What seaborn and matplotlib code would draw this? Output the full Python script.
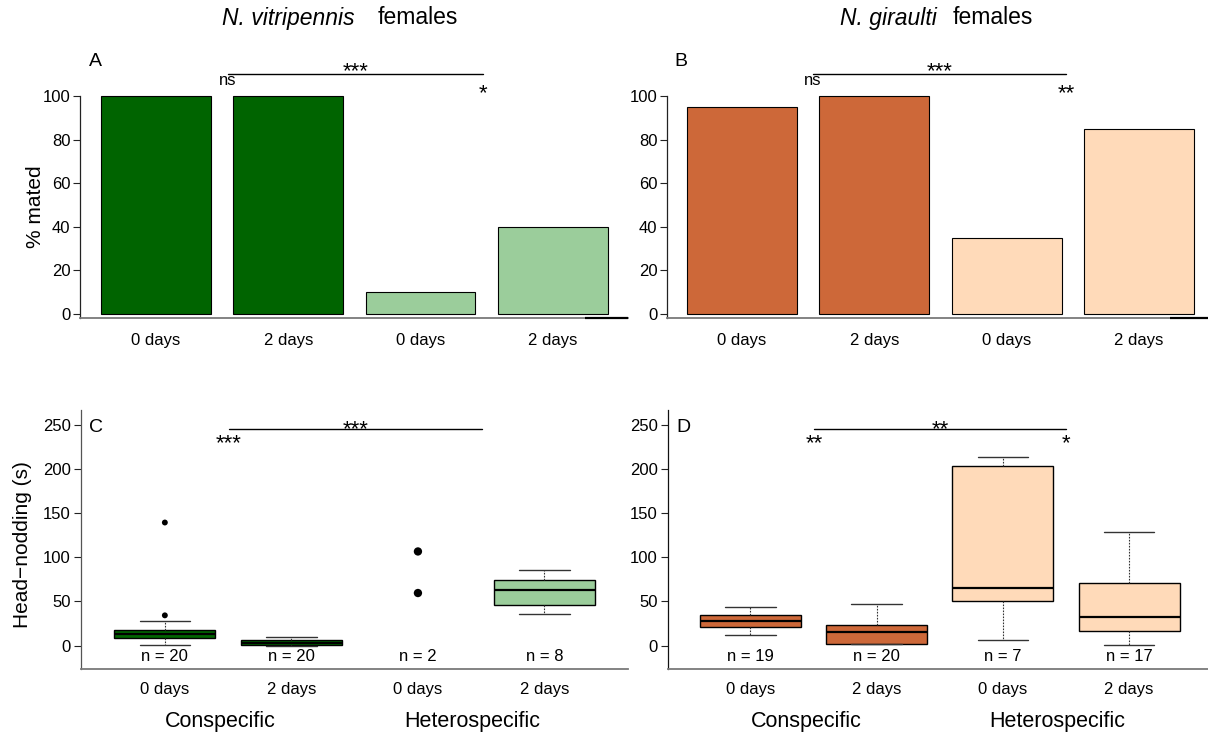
import matplotlib
matplotlib.use('Agg')
import matplotlib.pyplot as plt
import matplotlib.transforms as mtrans
import seaborn as sns
import numpy as np

sns.set_theme(style='white')
plt.rcParams['font.family'] = ['Liberation Sans', 'DejaVu Sans']
plt.rcParams['text.color'] = 'black'
plt.rcParams['axes.labelcolor'] = 'black'
plt.rcParams['xtick.color'] = 'black'
plt.rcParams['ytick.color'] = 'black'

# ---------------- data ----------------
conditions = ['con0', 'con2', 'het0', 'het2']
day_labels = ['0 days', '2 days', '0 days', '2 days']
group_labels = ['Conspecific', 'Heterospecific']

vit_mated = [100, 100, 10, 40]
gir_mated = [95, 100, 35, 85]

vit_colors = ['#006400', '#006400', '#9BCD9B', '#9BCD9B']
gir_colors = ['#CD6839', '#CD6839', '#FFDAB9', '#FFDAB9']

# head-nodding box statistics (s)
vit_med = [12.8, 3.0, np.nan, 63.0]
vit_q1 = [8.3, 0.8, np.nan, 46.0]
vit_q3 = [17.3, 6.4, np.nan, 74.7]
vit_lo = [0.8, 0.0, np.nan, 36.2]
vit_hi = [28.3, 9.4, np.nan, 85.6]
vit_n = [20, 20, 2, 8]
vit_out_x = [0, 0]
vit_out_y = [34.3, 139.5]
vit_raw_x = [2, 2]
vit_raw_y = [59.6, 106.7]

gir_med = [28.0, 15.5, 64.8, 32.8]
gir_q1 = [20.7, 2.3, 50.1, 16.6]
gir_q3 = [34.7, 23.4, 203.6, 70.9]
gir_lo = [11.7, 1.5, 6.8, 0.8]
gir_hi = [43.4, 46.7, 214.0, 128.6]
gir_n = [19, 20, 7, 17]

sig_A = ['ns', '***', '*']
sig_B = ['ns', '***', '**']
sig_C = ['***', '***', '']
sig_D = ['**', '**', '*']

W, H = 1208, 734
fig = plt.figure(figsize=(W / 100, H / 100), dpi=100)


def px_axes(l, t, r, b):
    return fig.add_axes([l / W, 1 - b / H, (r - l) / W, (b - t) / H])


def style(ax, left_color):
    for s in ['top', 'right']:
        ax.spines[s].set_visible(False)
    ax.spines['bottom'].set_color('#7a7a7a')
    ax.spines['bottom'].set_linewidth(1.3)
    ax.spines['left'].set_color(left_color)
    ax.spines['left'].set_linewidth(0.9)
    ax.tick_params(axis='y', direction='out', length=5, width=0.8, left=True,
                   labelsize=12, pad=2, color='#222', labelcolor='black')
    ax.tick_params(axis='x', length=0, labelsize=12, labelcolor='black')
    ax.grid(False)


def sig(ax, labels, x0, x1, y, off_left, off_mid, off_right, size_left):
    ax.plot([x0, x1], [y, y], color='black', lw=1.0, clip_on=False)
    l, m, r = labels
    ax.annotate(l, xy=(x0, y), xytext=(0, off_left), textcoords='offset points',
                ha='center', va='baseline', fontsize=size_left, annotation_clip=False)
    ax.annotate(m, xy=((x0 + x1) / 2, y), xytext=(0, off_mid), textcoords='offset points',
                ha='center', va='baseline', fontsize=16, annotation_clip=False)
    if r:
        ax.annotate(r, xy=(x1, y), xytext=(0, off_right), textcoords='offset points',
                    ha='center', va='baseline', fontsize=16, annotation_clip=False)


# ---------------- bar panels ----------------
def bar_panel(ax, values, colors, xlim, ylim, dark_from, sigs, sig_x, ylabel):
    sns.barplot(x=conditions, y=values, hue=conditions, palette=colors, width=0.83,
                saturation=1, edgecolor='black', linewidth=0.8, legend=False, ax=ax)
    ax.set_xlim(*xlim)
    ax.set_ylim(*ylim)
    style(ax, '#222')
    ax.spines['left'].set_bounds(ylim[0], 100)
    ax.set_yticks([0, 20, 40, 60, 80, 100])
    ax.set_xticks(range(4))
    ax.set_xticklabels(day_labels)
    ax.tick_params(axis='x', pad=11)
    ax.set_xlabel('')
    ax.plot([dark_from, xlim[1]], [ylim[0], ylim[0]], color='black', lw=1.6,
            clip_on=False, solid_capstyle='butt', zorder=5)
    if ylabel:
        ax.set_ylabel(ylabel, fontsize=15)
        ax.yaxis.set_label_coords(-0.064, 0.414)
    else:
        ax.set_ylabel('')
    sig(ax, sigs, sig_x[0], sig_x[1], 110.1, -8, -2, -18.5, 12)


axA = px_axes(80, 50, 628, 318)
bar_panel(axA, vit_mated, vit_colors, (-0.574, 3.568), (-1.83, 121.1), 3.243,
          sig_A, (0.544, 2.47), '% mated')
axB = px_axes(667, 50, 1208, 318)
bar_panel(axB, gir_mated, gir_colors, (-0.567, 3.52), (-1.83, 121.1), 3.235,
          sig_B, (0.537, 2.449), None)


# ---------------- box panels ----------------
def box_panel(ax, med, q1, q3, lo, hi, ns, colors, xlim, left_color, sigs, sig_x, ylabel):
    stats, pos, cols = [], [], []
    for i in range(4):
        if np.isnan(med[i]):
            continue
        stats.append(dict(med=med[i], q1=q1[i], q3=q3[i], whislo=lo[i], whishi=hi[i],
                          fliers=[]))
        pos.append(i)
        cols.append(colors[i])
    bp = ax.bxp(stats, positions=pos, widths=0.8, capwidths=0.4, patch_artist=True,
                showfliers=False,
                boxprops=dict(edgecolor='black', linewidth=1.0),
                medianprops=dict(color='black', linewidth=1.6, solid_capstyle='butt'),
                whiskerprops=dict(color='#333', linewidth=0.8, linestyle=(0, (1.5, 1.2))),
                capprops=dict(color='#333', linewidth=1.0))
    for patch, c in zip(bp['boxes'], cols):
        patch.set_facecolor(c)
    ax.set_xlim(*xlim)
    ax.set_ylim(-26.5, 267)
    style(ax, left_color)
    ax.set_yticks([0, 50, 100, 150, 200, 250])
    ax.set_xticks(range(4))
    ax.set_xticklabels(day_labels)
    ax.tick_params(axis='x', pad=9.5)
    for i, n in enumerate(ns):
        ax.text(i, -12.4, f'n = {n}', ha='center', va='center', fontsize=12)
    tr = mtrans.blended_transform_factory(ax.transData, ax.transAxes)
    ax.text(0.44, -0.2035, group_labels[0], transform=tr, ha='center', va='center', fontsize=15.5)
    ax.text(2.43, -0.2035, group_labels[1], transform=tr, ha='center', va='center', fontsize=15.5)
    if ylabel:
        ax.set_ylabel(ylabel, fontsize=15)
        ax.yaxis.set_label_coords(-0.089, 0.479)
    sig(ax, sigs, sig_x[0], sig_x[1], 245.0, -14.5, -4, -14.5, 16)


axC = px_axes(80.7, 410, 628, 669)
box_panel(axC, vit_med, vit_q1, vit_q3, vit_lo, vit_hi, vit_n, vit_colors,
          (-0.665, 3.66), '#555', sig_C, (0.506, 2.505), 'Head\u2212nodding (s)')
sns.scatterplot(x=vit_out_x, y=vit_out_y, color='black', s=18, edgecolor='none',
                ax=axC, legend=False)
sns.scatterplot(x=vit_raw_x, y=vit_raw_y, color='black', s=36, edgecolor='none',
                ax=axC, legend=False)
axC.set_xlim(-0.665, 3.66)
axC.set_xticks(range(4))
axC.set_xticklabels(day_labels)

axD = px_axes(667.7, 410, 1208, 669)
box_panel(axD, gir_med, gir_q1, gir_q3, gir_lo, gir_hi, gir_n, gir_colors,
          (-0.656, 3.625), '#111', sig_D, (0.503, 2.5), None)

# ---------------- titles & letters ----------------
fig.text(355 / W, 1 - 18 / H, 'N. vitripennis', ha='right', va='center', fontsize=16.5, style='italic')
fig.text(378 / W, 1 - 18 / H, 'females', ha='left', va='center', fontsize=16.5)
fig.text(937 / W, 1 - 18 / H, 'N. giraulti', ha='right', va='center', fontsize=16.5, style='italic')
fig.text(953 / W, 1 - 18 / H, 'females', ha='left', va='center', fontsize=16.5)

for letter, x, y in [('A', 95, 61), ('B', 681, 61), ('C', 96, 427), ('D', 683, 427)]:
    fig.text(x / W, 1 - y / H, letter, ha='center', va='center', fontsize=14)

fig.savefig('out.png', dpi=100)
